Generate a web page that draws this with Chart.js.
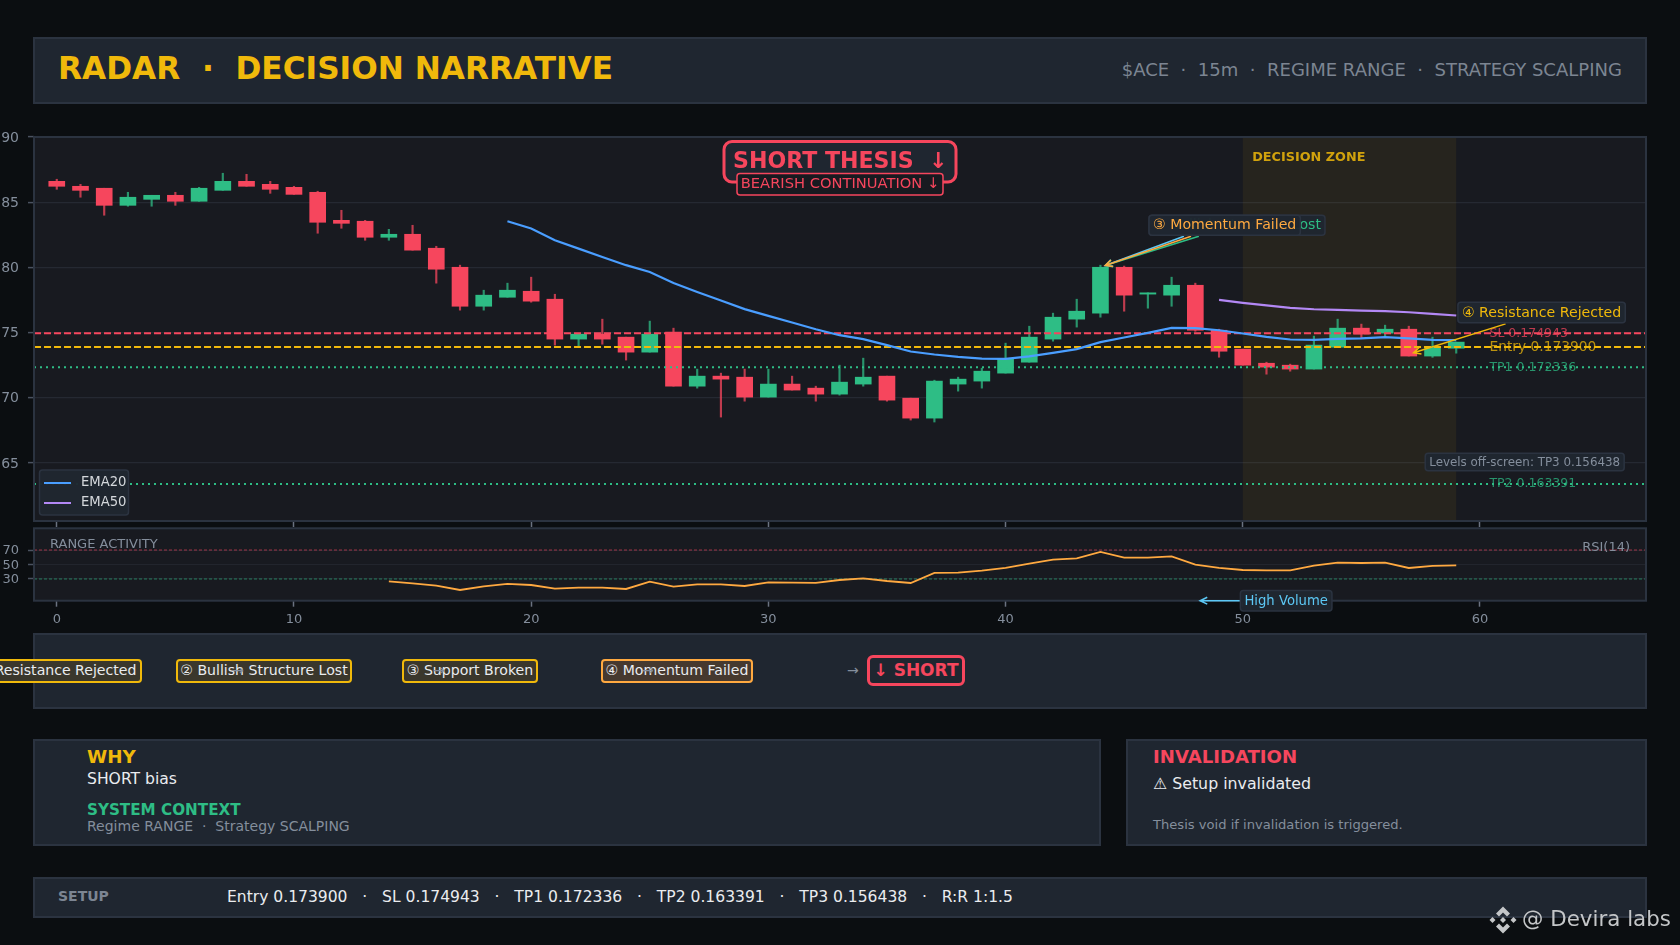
<!DOCTYPE html>
<html>
<head>
<meta charset="utf-8">
<title>Radar decision narrative</title>
<script src="https://cdn.jsdelivr.net/npm/chart.js@4"></script>
<style>
    html, body { margin: 0; width: 1680px; height: 945px; overflow: hidden; background: #0b0e11; font-family: "DejaVu Sans", sans-serif; }
    canvas { position: absolute; left: 0; top: 0; }
    .panel { position: absolute; box-sizing: border-box; background: #1f2630; border: 2px solid #2b3340; }
    .t { position: absolute; white-space: pre; line-height: 1; transform: translateY(-50%); }
    .step { position: absolute; box-sizing: border-box; top: 659px; height: 24px; line-height: 19px; text-align: center; white-space: pre; font-size: 14.1px; color: #eaecef; border: 2px solid #f0b90b; border-radius: 4px; background: #3a372c; }
    .step.last { border-color: #ffa940; background: #46392f; }
</style>
</head>
<body>
<div class="panel" style="left:33px;top:37px;width:1614px;height:67px"></div>
<div class="t" style="left:58px;top:69px;font-size:31.2px;font-weight:bold;color:#f0b90b">RADAR  ·  DECISION NARRATIVE</div>
<div class="t" style="right:58px;top:70px;font-size:18.05px;color:#7c8592">$ACE  ·  15m  ·  REGIME RANGE  ·  STRATEGY SCALPING</div>

<div class="panel" style="left:33px;top:633px;width:1614px;height:76px"></div>
<div class="step" style="left:-28px;width:170px">① Resistance Rejected</div>
<div class="step" style="left:176px;width:176px">② Bullish Structure Lost</div>
<div class="step" style="left:402px;width:136px">③ Support Broken</div>
<div class="step last" style="left:601px;width:152px">④ Momentum Failed</div>
<div class="t" style="left:232px;top:670px;font-size:14px;color:#848e9c">→</div>
<div class="t" style="left:433px;top:670px;font-size:14px;color:#848e9c">→</div>
<div class="t" style="left:642px;top:670px;font-size:14px;color:#848e9c">→</div>
<div class="t" style="left:847px;top:670px;font-size:14px;color:#848e9c">→</div>
<div class="step" style="left:867px;top:655px;width:98px;height:31px;line-height:24px;border:3px solid #f6465d;border-radius:6px;background:#1f2630;color:#f6465d;font-weight:bold;font-size:17px">↓ SHORT</div>

<div class="panel" style="left:33px;top:739px;width:1068px;height:107px"></div>
<div class="t" style="left:87px;top:757px;font-size:18.3px;font-weight:bold;color:#f0b90b">WHY</div>
<div class="t" style="left:87px;top:780px;font-size:15.6px;color:#eaecef">SHORT bias</div>
<div class="t" style="left:87px;top:811px;font-size:15.2px;font-weight:bold;color:#2ebd85">SYSTEM CONTEXT</div>
<div class="t" style="left:87px;top:826px;font-size:14px;color:#848e9c">Regime RANGE  ·  Strategy SCALPING</div>

<div class="panel" style="left:1126px;top:739px;width:521px;height:107px"></div>
<div class="t" style="left:1153px;top:757px;font-size:18.1px;font-weight:bold;color:#f6465d">INVALIDATION</div>
<div class="t" style="left:1153px;top:784px;font-size:15.8px;color:#eaecef">⚠ Setup invalidated</div>
<div class="t" style="left:1153px;top:825px;font-size:13.1px;color:#848e9c">Thesis void if invalidation is triggered.</div>

<div class="panel" style="left:33px;top:877px;width:1614px;height:41px"></div>
<div class="t" style="left:58px;top:896px;font-size:14px;font-weight:bold;color:#7c8592">SETUP</div>
<div class="t" style="left:227px;top:898px;font-size:15.55px;color:#eaecef">Entry 0.173900   ·   SL 0.174943   ·   TP1 0.172336   ·   TP2 0.163391   ·   TP3 0.156438   ·   R:R 1:1.5</div>

<canvas id="priceChart" width="1680" height="945"></canvas>
<canvas id="rsiChart" width="1680" height="945"></canvas>

<svg style="position:absolute;left:1488px;top:905px" width="30" height="30" viewBox="-15 -15 30 30" fill="#c4c6c8">
    <path d="M0-13.5 7-6.5 4-3.5 0-7.5-4-3.5-7-6.5Z"/>
    <path d="M0 13.5 7 6.5 4 3.5 0 7.5-4 3.5-7 6.5Z"/>
    <path d="M-13.5 0-10.5-3-7.5 0-10.5 3Z"/>
    <path d="M13.5 0 10.5-3 7.5 0 10.5 3Z"/>
    <path d="M0-3 3 0 0 3-3 0Z"/>
</svg>
<div class="t" style="left:1522px;top:919px;font-size:21.4px;color:#c4c6c8">@ Devira labs</div>

<script>
const xMin = -0.96;
const xMax = 67;
const tickStepX = 10;
const priceMin = 0.16055;
const priceMax = 0.19;
const priceStep = 0.005;

const opens = [
    0.18660, 0.18622, 0.18607, 0.18476, 0.18522, 0.18553, 0.18507, 0.18591, 0.18660, 0.18637,
    0.18614, 0.18576, 0.18361, 0.18354, 0.18231, 0.18254, 0.18147, 0.18001, 0.17702, 0.17771,
    0.17817, 0.17756, 0.17450, 0.17488, 0.17465, 0.17350, 0.17503, 0.17089, 0.17166, 0.17158,
    0.17005, 0.17105, 0.17074, 0.17028, 0.17105, 0.17166, 0.16997, 0.16844, 0.17105, 0.17128,
    0.17189, 0.17273, 0.17450, 0.17603, 0.17649, 0.18001, 0.17795, 0.17787, 0.17863, 0.17518,
    0.17373, 0.17265, 0.17250, 0.17220, 0.17388, 0.17534, 0.17496, 0.17526, 0.17320, 0.17380
];
const highs = [
    0.18676, 0.18637, 0.18607, 0.18576, 0.18553, 0.18576, 0.18614, 0.18722, 0.18714, 0.18660,
    0.18622, 0.18584, 0.18438, 0.18361, 0.18292, 0.18323, 0.18162, 0.18017, 0.17825, 0.17879,
    0.17925, 0.17794, 0.17495, 0.17603, 0.17465, 0.17588, 0.17534, 0.17220, 0.17189, 0.17220,
    0.17220, 0.17166, 0.17089, 0.17250, 0.17304, 0.17166, 0.16997, 0.17135, 0.17158, 0.17227,
    0.17419, 0.17549, 0.17649, 0.17756, 0.18017, 0.18010, 0.17805, 0.17925, 0.17879, 0.17526,
    0.17373, 0.17273, 0.17258, 0.17473, 0.17603, 0.17565, 0.17557, 0.17549, 0.17465, 0.17427
];
const lows = [
    0.18599, 0.18538, 0.18400, 0.18469, 0.18469, 0.18476, 0.18507, 0.18591, 0.18622, 0.18568,
    0.18560, 0.18262, 0.18300, 0.18208, 0.18208, 0.18132, 0.17879, 0.17672, 0.17672, 0.17771,
    0.17733, 0.17404, 0.17388, 0.17411, 0.17289, 0.17350, 0.17089, 0.17074, 0.16852, 0.16974,
    0.17005, 0.17059, 0.16974, 0.17020, 0.17089, 0.16974, 0.16829, 0.16814, 0.17051, 0.17074,
    0.17189, 0.17273, 0.17434, 0.17542, 0.17618, 0.17664, 0.17687, 0.17702, 0.17510, 0.17311,
    0.17250, 0.17181, 0.17204, 0.17220, 0.17388, 0.17457, 0.17473, 0.17320, 0.17310, 0.17342
];
const closes = [
    0.18622, 0.18591, 0.18476, 0.18538, 0.18553, 0.18507, 0.18607, 0.18660, 0.18622, 0.18599,
    0.18560, 0.18346, 0.18338, 0.18231, 0.18254, 0.18132, 0.17986, 0.17702, 0.17787, 0.17825,
    0.17741, 0.17450, 0.17488, 0.17450, 0.17350, 0.17488, 0.17089, 0.17166, 0.17143, 0.17005,
    0.17105, 0.17059, 0.17028, 0.17120, 0.17158, 0.16982, 0.16844, 0.17128, 0.17143, 0.17204,
    0.17296, 0.17465, 0.17618, 0.17664, 0.18001, 0.17787, 0.17805, 0.17863, 0.17518, 0.17357,
    0.17250, 0.17235, 0.17220, 0.17404, 0.17534, 0.17488, 0.17526, 0.17320, 0.17388, 0.17427
];

const ema20Start = 19;
const ema20 = [
    0.18354, 0.18298, 0.18208, 0.18144, 0.18080, 0.18017, 0.17965, 0.17881, 0.17812, 0.17746,
    0.17680, 0.17628, 0.17577, 0.17526, 0.17480, 0.17450, 0.17404, 0.17355, 0.17332, 0.17314,
    0.17301, 0.17299, 0.17317, 0.17345, 0.17373, 0.17427, 0.17462, 0.17498, 0.17536, 0.17534,
    0.17518, 0.17493, 0.17467, 0.17447, 0.17444, 0.17452, 0.17455, 0.17465, 0.17455, 0.17444,
    0.17442
];
const ema50Start = 49;
const ema50 = [0.17751, 0.17728, 0.17708, 0.17690, 0.17679, 0.17674, 0.17669, 0.17664, 0.17656, 0.17644, 0.17631];

const rsiStart = 14;
const rsiValues = [
    26.8, 24.0, 20.8, 14.8, 19.9, 23.1, 21.7, 16.6, 18.0, 18.0,
    16.2, 26.3, 19.4, 22.6, 22.6, 20.3, 25.4, 24.9, 24.5, 28.6,
    30.9, 27.2, 24.5, 38.3, 38.7, 41.5, 45.2, 51.2, 56.7, 58.5,
    67.3, 59.5, 59.5, 61.3, 49.8, 45.2, 42.4, 42.0, 42.0, 48.4,
    52.6, 52.1, 52.6, 45.2, 48.0, 48.9
];
const rsiTicks = [30, 50, 70];
const rsiUpper = 70;
const rsiLower = 30;

const slLevel = 0.174943;
const entryLevel = 0.1739;
const tp1Level = 0.172336;
const tp2Level = 0.163391;
const zoneStart = 50;
const zoneEnd = 59;

const RED = '#f6465d';
const GREEN = '#2ebd85';
const GOLD = '#f0b90b';
const ORANGE = '#ffa940';
const BLUE = '#4a9eff';
const PURPLE = '#b388f5';
const GRAY = '#848e9c';
const FRAME = '#2b3340';
const CHIP_BG = 'rgba(31, 38, 48, 0.96)';

Chart.defaults.font.family = '"DejaVu Sans", sans-serif';
Chart.defaults.color = GRAY;
Chart.defaults.animation = false;

function indexedPoints(values, start) {
    return values.map((y, i) => ({ x: i + start, y }));
}

function levelDataset(value, color, dash) {
    return {
        type: 'line',
        data: [{ x: xMin, y: value }, { x: xMax, y: value }],
        borderColor: color,
        borderWidth: 2,
        borderDash: dash,
        pointRadius: 0,
        order: 2
    };
}

function roundedRect(ctx, x, y, w, h, r, fill, stroke, lineWidth) {
    ctx.beginPath();
    ctx.roundRect(x, y, w, h, r);
    ctx.fillStyle = fill;
    ctx.fill();
    ctx.lineWidth = lineWidth;
    ctx.strokeStyle = stroke;
    ctx.stroke();
}

function drawChip(ctx, text, x, y, align, font, color, h) {
    ctx.font = font;
    const w = ctx.measureText(text).width + 8;
    const left = align === 'right' ? x - w : x;
    roundedRect(ctx, left, y - h / 2, w, h, 3, CHIP_BG, FRAME, 1.5);
    ctx.fillStyle = color;
    ctx.textAlign = 'left';
    ctx.textBaseline = 'middle';
    ctx.fillText(text, left + 4, y + 0.5);
}

function drawArrow(ctx, x0, y0, x1, y1, color) {
    const angle = Math.atan2(y1 - y0, x1 - x0);
    ctx.strokeStyle = color;
    ctx.lineWidth = 1.5;
    ctx.beginPath();
    ctx.moveTo(x0, y0);
    ctx.lineTo(x1, y1);
    ctx.moveTo(x1 - 8 * Math.cos(angle - 0.45), y1 - 8 * Math.sin(angle - 0.45));
    ctx.lineTo(x1, y1);
    ctx.lineTo(x1 - 8 * Math.cos(angle + 0.45), y1 - 8 * Math.sin(angle + 0.45));
    ctx.stroke();
}

function drawFrame(chart) {
    const { ctx, chartArea: a } = chart;
    ctx.save();
    ctx.strokeStyle = FRAME;
    ctx.lineWidth = 2;
    ctx.strokeRect(a.left, a.top, a.right - a.left, a.bottom - a.top);
    ctx.restore();
}

const plotBackground = {
    id: 'plotBackground',
    beforeDraw(chart) {
        const { ctx, chartArea: a } = chart;
        ctx.save();
        ctx.fillStyle = '#181a20';
        ctx.fillRect(a.left, a.top, a.right - a.left, a.bottom - a.top);
        ctx.restore();
    }
};

const priceUnderlay = {
    id: 'priceUnderlay',
    beforeDatasetsDraw(chart) {
        const { ctx, chartArea: a, scales: { x, y } } = chart;
        ctx.save();
        ctx.fillStyle = 'rgba(240, 185, 11, 0.065)';
        ctx.fillRect(x.getPixelForValue(zoneStart), a.top, x.getPixelForValue(zoneEnd) - x.getPixelForValue(zoneStart), a.bottom - a.top);
        ctx.textAlign = 'left';
        ctx.textBaseline = 'middle';
        ctx.font = 'bold 12.8px "DejaVu Sans"';
        ctx.fillStyle = 'rgba(240, 185, 11, 0.85)';
        ctx.fillText('DECISION ZONE', x.getPixelForValue(zoneStart + 0.4), a.top + 21);

        const labelX = x.getPixelForValue(60.4);
        ctx.globalAlpha = 0.75;
        ctx.font = '12.5px "DejaVu Sans"';
        ctx.fillStyle = RED;
        ctx.fillText('SL 0.174943', labelX, y.getPixelForValue(slLevel));
        ctx.fillStyle = GREEN;
        ctx.fillText('TP1 0.172336', labelX, y.getPixelForValue(tp1Level));
        ctx.fillText('TP2 0.163391', labelX, y.getPixelForValue(tp2Level));
        ctx.font = '13.8px "DejaVu Sans"';
        ctx.fillStyle = GOLD;
        ctx.fillText('Entry 0.173900', labelX, y.getPixelForValue(entryLevel));
        ctx.restore();
    }
};

const priceOverlay = {
    id: 'priceOverlay',
    afterDatasetsDraw(chart) {
        const { ctx, chartArea: a, scales: { x, y } } = chart;
        const cx = (a.left + a.right) / 2;
        ctx.save();

        // thesis badge
        roundedRect(ctx, cx - 116, a.top + 4.5, 232, 40.5, 8, '#1f2630', RED, 3);
        ctx.font = 'bold 22.1px "DejaVu Sans"';
        ctx.fillStyle = RED;
        ctx.textAlign = 'left';
        ctx.textBaseline = 'middle';
        ctx.fillText('SHORT THESIS  ↓', cx - 107, a.top + 25);
        roundedRect(ctx, cx - 103, a.top + 36.5, 206, 21.5, 3, '#181a20', RED, 1.5);
        ctx.font = '14.7px "DejaVu Sans"';
        ctx.textAlign = 'center';
        ctx.fillStyle = RED;
        ctx.fillText('BEARISH CONTINUATION ↓', cx, a.top + 47.5);

        // callouts pointing at the pivot and the rejection candle
        const pivotX = x.getPixelForValue(44.2);
        const pivotY = y.getPixelForValue(0.18014);
        const calloutY = y.getPixelForValue(0.18239);
        drawArrow(ctx, x.getPixelForValue(47.52), calloutY, pivotX, pivotY, '#5cc8f5');
        drawArrow(ctx, x.getPixelForValue(48.15), calloutY, pivotX, pivotY, GREEN);
        drawArrow(ctx, x.getPixelForValue(47.82), calloutY, pivotX, pivotY, ORANGE);
        const chipFont = '14.15px "DejaVu Sans"';
        const chipX = x.getPixelForValue(46.05);
        const chipY = y.getPixelForValue(0.18323);
        drawChip(ctx, '② Bullish Structure Lost', chipX, chipY, 'left', chipFont, GREEN, 20);
        drawChip(ctx, '③ Momentum Failed', chipX, chipY, 'left', chipFont, ORANGE, 20);

        drawArrow(ctx, x.getPixelForValue(61.08), y.getPixelForValue(0.17567), x.getPixelForValue(57.2), y.getPixelForValue(0.17345), GOLD);
        drawChip(ctx, '④ Resistance Rejected', x.getPixelForValue(59.07), y.getPixelForValue(0.17654), 'left', chipFont, GOLD, 20.5);
        drawChip(ctx, 'Levels off-screen: TP3 0.156438', x.getPixelForValue(66.08), y.getPixelForValue(0.16507), 'right', '11.9px "DejaVu Sans"', GRAY, 17.5);

        // legend
        roundedRect(ctx, a.left + 5.5, a.bottom - 51, 89, 45, 3, CHIP_BG, FRAME, 1.5);
        ctx.font = '13.2px "DejaVu Sans"';
        ctx.textAlign = 'left';
        chart.data.datasets.filter(d => d.label).forEach((d, i) => {
            const rowY = a.bottom - 38 + i * 20;
            ctx.strokeStyle = d.borderColor;
            ctx.lineWidth = 2;
            ctx.beginPath();
            ctx.moveTo(a.left + 10, rowY);
            ctx.lineTo(a.left + 37, rowY);
            ctx.stroke();
            ctx.fillStyle = '#d5d8dc';
            ctx.fillText(d.label, a.left + 47, rowY);
        });
        ctx.restore();
        drawFrame(chart);
    }
};

const rsiOverlay = {
    id: 'rsiOverlay',
    afterDatasetsDraw(chart) {
        const { ctx, chartArea: a, scales: { x, y } } = chart;
        drawFrame(chart);
        ctx.save();
        ctx.font = '13px "DejaVu Sans"';
        ctx.textAlign = 'left';
        ctx.textBaseline = 'middle';
        ctx.fillStyle = GRAY;
        ctx.fillText('RANGE ACTIVITY', a.left + 16, a.top + 16);
        ctx.textAlign = 'right';
        ctx.fillText('RSI(14)', a.right - 16, a.top + 19);
        const chipX = x.getPixelForValue(49.9);
        const chipY = y.getPixelForValue(0);
        drawArrow(ctx, chipX, chipY, x.getPixelForValue(48.2), chipY, '#5cc8f5');
        drawChip(ctx, 'High Volume', chipX, chipY, 'left', '13.2px "DejaVu Sans"', '#5cc8f5', 20.5);
        ctx.restore();
    }
};

function candleColors(alphaHex) {
    return opens.map((o, i) => (closes[i] >= o ? GREEN : RED) + alphaHex);
}

function setupPriceChart() {
    new Chart(document.getElementById('priceChart'), {
        type: 'bar',
        data: {
            datasets: [
                {
                    data: highs.map((h, i) => ({ x: i, y: [lows[i], h] })),
                    backgroundColor: candleColors('c0'),
                    barThickness: 1.5,
                    grouped: false,
                    order: 5
                },
                {
                    data: opens.map((o, i) => ({ x: i, y: [o, closes[i]] })),
                    backgroundColor: candleColors(''),
                    barThickness: 16,
                    grouped: false,
                    order: 4
                },
                levelDataset(slLevel, RED, [7, 3]),
                levelDataset(entryLevel, GOLD, [7, 3]),
                levelDataset(tp1Level, GREEN, [2, 4]),
                levelDataset(tp2Level, GREEN, [2, 4]),
                {
                    type: 'line',
                    label: 'EMA20',
                    data: indexedPoints(ema20, ema20Start),
                    borderColor: BLUE,
                    borderWidth: 2.2,
                    pointRadius: 0,
                    order: 1
                },
                {
                    type: 'line',
                    label: 'EMA50',
                    data: indexedPoints(ema50, ema50Start),
                    borderColor: PURPLE,
                    borderWidth: 2.2,
                    pointRadius: 0,
                    order: 1
                }
            ]
        },
        options: {
            responsive: false,
            layout: { autoPadding: false, padding: { left: 0, top: 137, right: 34, bottom: 418 } },
            plugins: { legend: { display: false }, tooltip: { enabled: false } },
            scales: {
                x: {
                    type: 'linear',
                    offset: false,
                    min: xMin,
                    max: xMax,
                    afterFit: scale => { scale.height = 6; },
                    border: { display: false },
                    grid: { offset: false, drawOnChartArea: false, tickLength: 6, tickColor: '#6a7280', tickWidth: 1.5 },
                    ticks: { display: false, stepSize: tickStepX, includeBounds: false }
                },
                y: {
                    min: priceMin,
                    max: priceMax,
                    afterFit: scale => { scale.width = 34; },
                    border: { display: false },
                    grid: { color: '#252932', lineWidth: 1.2, tickLength: 6, tickColor: '#4a5260', tickWidth: 1.5 },
                    ticks: {
                        stepSize: priceStep,
                        includeBounds: false,
                        autoSkip: false,
                        padding: 9,
                        labelOffset: 1,
                        font: { size: 14 },
                        color: GRAY,
                        callback: value => value.toFixed(3)
                    }
                }
            }
        },
        plugins: [plotBackground, priceUnderlay, priceOverlay]
    });
}

function setupRsiChart() {
    const guide = (value, color) => ({
        data: [{ x: xMin, y: value }, { x: xMax, y: value }],
        borderColor: color,
        borderWidth: 1,
        borderDash: [3, 2],
        pointRadius: 0,
        order: 2
    });
    new Chart(document.getElementById('rsiChart'), {
        type: 'line',
        data: {
            datasets: [
                guide(rsiUpper, 'rgba(246, 70, 93, 0.6)'),
                guide(rsiLower, 'rgba(46, 189, 133, 0.6)'),
                {
                    data: indexedPoints(rsiValues, rsiStart),
                    borderColor: ORANGE,
                    borderWidth: 1.8,
                    pointRadius: 0,
                    order: 1
                }
            ]
        },
        options: {
            responsive: false,
            layout: { autoPadding: false, padding: { left: 0, top: 528.3, right: 34, bottom: 314.3 } },
            plugins: { legend: { display: false }, tooltip: { enabled: false } },
            scales: {
                x: {
                    type: 'linear',
                    min: xMin,
                    max: xMax,
                    afterFit: scale => { scale.height = 30; },
                    border: { display: false },
                    grid: { drawOnChartArea: false, tickLength: 6, tickColor: '#6a7280', tickWidth: 1.5 },
                    ticks: { stepSize: tickStepX, includeBounds: false, autoSkip: false, maxRotation: 0, padding: 5, font: { size: 13 }, color: GRAY }
                },
                y: {
                    min: 0,
                    max: 100,
                    afterFit: scale => { scale.width = 34; },
                    afterBuildTicks: scale => { scale.ticks = rsiTicks.map(value => ({ value })); },
                    border: { display: false },
                    grid: { color: '#22252d', tickLength: 6, tickColor: '#4a5260', tickWidth: 1.5 },
                    ticks: { autoSkip: false, padding: 9, labelOffset: 1, font: { size: 13 }, color: GRAY }
                }
            }
        },
        plugins: [plotBackground, rsiOverlay]
    });
}

document.addEventListener('DOMContentLoaded', () => {
    setupPriceChart();
    setupRsiChart();
});
</script>
</body>
</html>
